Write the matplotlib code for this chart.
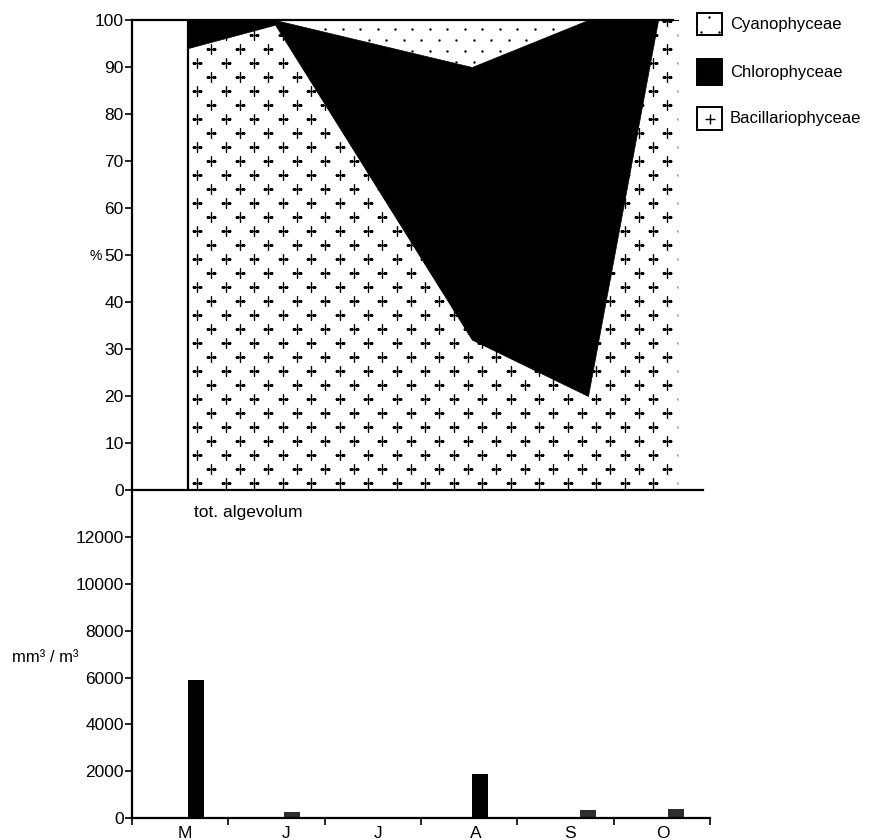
import numpy as np
import matplotlib
matplotlib.use("Agg")
import matplotlib.pyplot as plt
from matplotlib.patches import Rectangle

plt.rcParams['font.family'] = ['Liberation Sans', 'DejaVu Sans']

# Sampling dates, in months counted from 1 May
pct_dates = [0.58, 1.49, 3.54, 4.75, 5.48]
# Composition of the phytoplankton (% of total algal volume)
bacillariophyceae = [94, 99, 32, 20, 100]
chlorophyceae = [6, 1, 58, 80, 0]
cyanophyceae = [0, 0, 10, 0, 0]

# Total algal volume (mm3/m3)
vol_dates = [0.66, 1.66, 3.61, 4.73, 5.65]
tot_volume = [5900, 250, 1900, 350, 370]
bar_colors = ['#000000', '#2e2e2e', '#000000', '#2e2e2e', '#2e2e2e']

month_labels = ['M', 'J', 'J', 'A', 'S', 'O']
pct_ticks = list(range(0, 101, 10))
vol_ticks = list(range(0, 12001, 2000))

legend_names = ['Cyanophyceae', 'Chlorophyceae', 'Bacillariophyceae']

W, H = 873, 840
fig = plt.figure(figsize=(W / 100, H / 100), dpi=100)


def px_rect(x0, y0, x1, y1):
    return [x0 / W, 1 - y1 / H, (x1 - x0) / W, (y1 - y0) / H]


PX_PER_MONTH = 96.0
ax1 = fig.add_axes(px_rect(132, 20, 703, 490))
ax2 = fig.add_axes(px_rect(132, 491, 710, 818))
PX_PER_MONTH2 = (710 - 132) / 6.0

# ---------- upper panel: stacked composition ----------
x_end = 5.69  # the last composition holds to the end of the sampling season
xs = np.array(pct_dates + [x_end])
bac = np.array(bacillariophyceae + [bacillariophyceae[-1]], float)
chl = np.array(chlorophyceae + [chlorophyceae[-1]], float)
cya = np.array(cyanophyceae + [cyanophyceae[-1]], float)

top_chl = bac + chl
bac_poly = ax1.fill_between(xs, 0, bac, facecolor='white', edgecolor='none', zorder=1)
ax1.fill_between(xs, bac, top_chl, facecolor='black', edgecolor='black', lw=0.5, zorder=2)
cya_poly = ax1.fill_between(xs, top_chl, top_chl + cya, facecolor='white',
                            edgecolor='none', zorder=1)

# '+' pattern for Bacillariophyceae (staggered lattice)
ppy = 470 / 100.0  # pixels per percent
dxp, dyp = 28.5, 14.0
px_list, py_list = [], []
row = 0
yv = 1.5
while yv < 101:
    off = 0 if row % 2 == 0 else dxp / 2
    xv = (197 - 132 - 4 * dxp + off) / PX_PER_MONTH
    while xv < 6.2:
        px_list.append(xv)
        py_list.append(yv)
        xv += dxp / PX_PER_MONTH
    yv += dyp / ppy
    row += 1
sc = ax1.scatter(px_list, py_list, marker='+', s=50, linewidths=1.0, color='black', zorder=3)
sc.set_clip_path(bac_poly.get_paths()[0], ax1.transData)

# dotted pattern for Cyanophyceae
dxd, dyd = 17.5, 11.0
dx_list, dy_list = [], []
row = 0
yv = 98.1
while yv > 60:
    off = 0 if row % 2 == 0 else dxd / 2
    xv = (430 - 132 - 20 * dxd + off) / PX_PER_MONTH
    while xv < 6.2:
        dx_list.append(xv)
        dy_list.append(yv)
        xv += dxd / PX_PER_MONTH
    yv -= dyd / ppy
    row += 1
dots = ax1.scatter(dx_list, dy_list, marker='o', s=3, color='black', linewidths=0, zorder=3)
dots.set_clip_path(cya_poly.get_paths()[0], ax1.transData)

# vertical edge of the first sample
ax1.plot([pct_dates[0], pct_dates[0]], [0, 100], color='black', lw=1.6, zorder=4)

ax1.set_xlim(0, (703 - 132) / PX_PER_MONTH)
ax1.set_ylim(0, 100)
ax1.set_xticks([])
ax1.set_yticks(pct_ticks)
ax1.tick_params(axis='y', direction='out', length=5, width=1.2, labelsize=12.5, pad=1)
ax1.spines['right'].set_visible(False)
ax1.spines['top'].set_bounds(0, (673 - 132) / PX_PER_MONTH)
for s in ('left', 'top', 'bottom'):
    ax1.spines[s].set_linewidth(1.6)
ax1.patch.set_visible(False)

# ---------- lower panel: total algal volume ----------
ax2.bar(vol_dates, tot_volume, width=16 / PX_PER_MONTH2, color=bar_colors, zorder=2)
ax2.set_xlim(0, 6)
ax2.set_ylim(0, 13970)
ax2.set_yticks(vol_ticks)
ax2.set_xticks(range(0, 7))
ax2.set_xticklabels([''] * 7)
ax2.set_xticks([0.55, 1.6, 2.55, 3.57, 4.55, 5.51], minor=True)
ax2.set_xticklabels(month_labels, minor=True)
ax2.tick_params(axis='x', which='major', direction='out', length=5, width=1.2)
ax2.tick_params(axis='x', which='minor', length=0, labelsize=12.5, pad=6)
ax2.tick_params(axis='y', direction='out', length=5, width=1.2, labelsize=12.5, pad=1)
ax2.spines['right'].set_visible(False)
ax2.spines['top'].set_visible(False)
for s in ('left', 'bottom'):
    ax2.spines[s].set_linewidth(1.6)
ax2.patch.set_visible(False)

# ---------- labels ----------
fig.text(96 / W, 1 - 256 / H, '%', ha='center', va='center', fontsize=10)
fig.text(45 / W, 1 - 658 / H, 'mm³ / m³', ha='center', va='center', fontsize=12)
fig.text(194 / W, 1 - 512 / H, 'tot. algevolum', ha='left', va='center', fontsize=12.5)

# ---------- legend ----------
lg = fig.add_axes([0, 0, 1, 1])
lg.set_xlim(0, W)
lg.set_ylim(H, 0)
lg.axis('off')
lg.add_patch(Rectangle((697, 13), 25, 22, fill=False, lw=1.4, edgecolor='black'))
lg.scatter([709, 700.5, 718.5], [17, 31.5, 31.5], s=3, color='black', linewidths=0)
lg.add_patch(Rectangle((697, 59), 25, 26, facecolor='black', edgecolor='black', lw=1.4))
lg.add_patch(Rectangle((697, 107), 25, 23, fill=False, lw=1.4, edgecolor='black'))
lg.scatter([709.5], [118.5], marker='+', s=45, linewidths=1.0, color='black')
for name, yc in zip(legend_names, [24, 72, 118]):
    lg.text(730, yc, name, ha='left', va='center', fontsize=12)

fig.savefig('out.png', dpi=100)
